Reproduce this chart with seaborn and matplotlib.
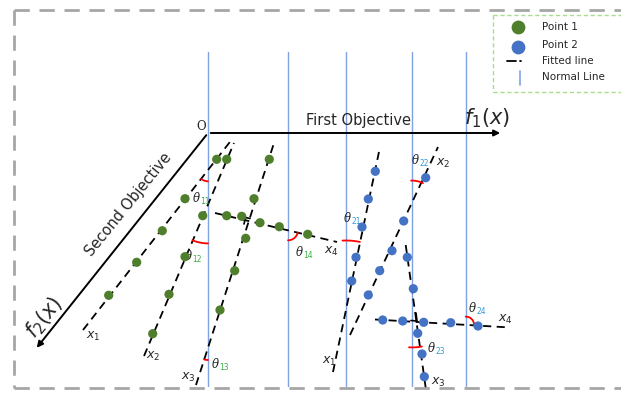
import numpy as np
import pandas as pd
import matplotlib
matplotlib.use("Agg")
import matplotlib.pyplot as plt
import seaborn as sns

# ---- data (pixel space of the diagram, y grows downwards) ----
ORIGIN = (208, 133)
F1_END = (503, 133)
F2_END = (35, 350)
NORMAL_X = [208, 288, 346, 412, 466]
NORMAL_Y = (52, 386)

P1_X = [216.7, 185.0, 162.3, 136.7, 108.7,
        226.7, 202.7, 185.0, 169.0, 152.7,
        269.3, 254.0, 245.7, 234.7, 220.0,
        226.7, 241.7, 260.0, 279.3, 307.7]
P1_Y = [159.3, 198.7, 230.7, 262.3, 295.3,
        159.3, 215.7, 256.7, 294.3, 333.7,
        159.3, 198.7, 238.3, 270.7, 310.0,
        215.7, 216.3, 222.7, 226.7, 234.3]

P2_X = [375.3, 368.3, 362.0, 356.0, 351.7,
        425.7, 403.7, 392.0, 379.7, 368.3,
        407.3, 413.3, 417.7, 422.0, 424.3,
        382.7, 402.7, 423.7, 450.7, 478.0]
P2_Y = [171.3, 199.0, 227.0, 257.3, 281.0,
        177.7, 221.0, 250.7, 270.7, 295.0,
        257.3, 288.7, 333.3, 354.0, 376.7,
        320.0, 321.0, 322.3, 322.7, 326.0]

# fitted lines: (x_start, y_start, x_end, y_end)
FIT1 = [(83, 330, 233, 138), (144, 356, 234, 143),
        (196, 385, 274, 143), (215, 213, 337, 242)]
FIT2 = [(333, 372, 380, 147), (350, 335, 438, 147),
        (405.7, 245, 426, 390), (375, 319.5, 510, 327.5)]
FIT1_LAB = [(93, 336), (153, 356), (188, 377), (331, 251)]
FIT2_LAB = [(329, 361), (443, 163), (438, 382), (505, 319)]

# angle arcs: centre x, centre y, radius, start deg, end deg (screen angles)
ARCS = [(208, 170.3, 11, 90, 128), (208, 203.4, 40, 90, 113),
        (208, 347, 13, 90, 108), (288, 230.3, 10, 13, 90),
        (346, 307.5, 67, -93, -78), (412, 205.6, 25, -92, -64),
        (412, 290.4, 57, 80, 93), (466, 324.7, 8, -92, 3)]
THETA_SUB = ["11", "12", "13", "14", "21", "22", "23", "24"]
THETA_POS = [(193, 199), (185, 257), (212, 364), (296, 252),
             (344, 219), (412, 161), (428, 348), (469, 308)]

GREEN = "#4f7f2d"
BLUE = "#4472c4"
SUB_GREEN = "#3cb043"
SUB_BLUE = "#3a9ad9"
NORMAL_C = "#7fa3e0"

sns.set_theme(style="white")
plt.rcParams["font.family"] = ["DejaVu Sans"]
plt.rcParams["mathtext.fontset"] = "dejavusans"

fig = plt.figure(figsize=(6.21, 3.93), dpi=100)
ax = fig.add_axes([0, 0, 1, 1])
ax.set_xlim(0, 621)
ax.set_ylim(393, 0)
ax.axis("off")

# outer dashed frame (right side cut off)
frame_kw = dict(color="#a6a6a6", lw=2, ls=(0, (5.5, 3.5)))
ax.plot([14, 621], [10, 10], **frame_kw)
ax.plot([14, 14], [10, 388], **frame_kw)
ax.plot([14, 621], [388, 388], **frame_kw)

# legend box
leg_kw = dict(color="#a9dd8c", lw=1, ls=(0, (3, 2)))
ax.plot([493, 621], [15, 15], **leg_kw)
ax.plot([493, 493], [15, 92], **leg_kw)
ax.plot([493, 621], [92, 92], **leg_kw)
ax.scatter([518], [27], s=80, color=GREEN, zorder=5)
ax.scatter([518], [47], s=80, color=BLUE, zorder=5)
ax.plot([507, 516], [61, 61], color="black", lw=1.3)
ax.plot([519.5, 520.5], [61, 61], color="black", lw=1.3)
ax.plot([520, 520], [71, 85], color=NORMAL_C, lw=1.2)
for ty, lab in zip([27, 45, 61, 77], ["Point 1", "Point 2", "Fitted line", "Normal Line"]):
    ax.text(542, ty, lab, fontsize=7.5, va="center", ha="left")

# normal lines
for nx in NORMAL_X:
    ax.plot([nx, nx], NORMAL_Y, color=NORMAL_C, lw=1, zorder=1)

# axes arrows
ax.annotate("", xy=F1_END, xytext=ORIGIN,
            arrowprops=dict(arrowstyle="-|>", color="black", lw=1.4, mutation_scale=9))
ax.annotate("", xy=F2_END, xytext=ORIGIN,
            arrowprops=dict(arrowstyle="-|>", color="black", lw=1.4, mutation_scale=9))
ax.text(201, 127, "O", fontsize=8.5, family="DejaVu Serif", ha="center", va="center")
ax.text(358, 121, "First Objective", fontsize=10.5, ha="center", va="center")
ax.text(487, 118, r"$f_1(x)$", fontsize=15, ha="center", va="center")
ax.text(128, 205, "Second Objective", fontsize=10.5, ha="center", va="center",
        rotation=51, rotation_mode="anchor")
ax.text(44, 318, r"$f_2(x)$", fontsize=15, ha="center", va="center",
        rotation=51, rotation_mode="anchor")

# fitted lines
dash = (0, (4.5, 3))
for fits, labs in ((FIT1, FIT1_LAB), (FIT2, FIT2_LAB)):
    for i, ((x0, y0, x1, y1), (lx, ly)) in enumerate(zip(fits, labs)):
        ax.plot([x0, x1], [y0, y1], color="black", lw=1.3, ls=dash, zorder=2)
        ax.text(lx, ly, rf"$x_{i + 1}$", fontsize=9, ha="center", va="center")

# right-angle markers
ax.plot([244, 245.5, 250], [224, 217.5, 218.5], color="black", lw=1.2)
ax.plot([411, 417, 416], [320.5, 321, 313], color="black", lw=1.2)

# points
pts = pd.concat([
    pd.DataFrame({"x": P1_X, "y": P1_Y, "kind": "Point 1"}),
    pd.DataFrame({"x": P2_X, "y": P2_Y, "kind": "Point 2"}),
])
sns.scatterplot(data=pts, x="x", y="y", hue="kind", palette={"Point 1": GREEN, "Point 2": BLUE},
                s=44, edgecolor="none", legend=False, ax=ax, zorder=4)
ax.set_xlim(0, 621)
ax.set_ylim(393, 0)

# angle arcs and theta labels
for (cx, cy, r, a0, a1), sub, (tx, ty) in zip(ARCS, THETA_SUB, THETA_POS):
    t = np.radians(np.linspace(a0, a1, 30))
    ax.plot(cx + r * np.cos(t), cy + r * np.sin(t), color="red", lw=1.3, zorder=3)
    ax.text(tx, ty, "θ", fontsize=8.5, ha="left", va="center",
            family="DejaVu Serif", style="italic")
    ax.text(tx + 7.5, ty + 3, sub, fontsize=5.5, ha="left", va="center",
            color=SUB_GREEN if sub[0] == "1" else SUB_BLUE)

fig.savefig("out.png", dpi=100)
